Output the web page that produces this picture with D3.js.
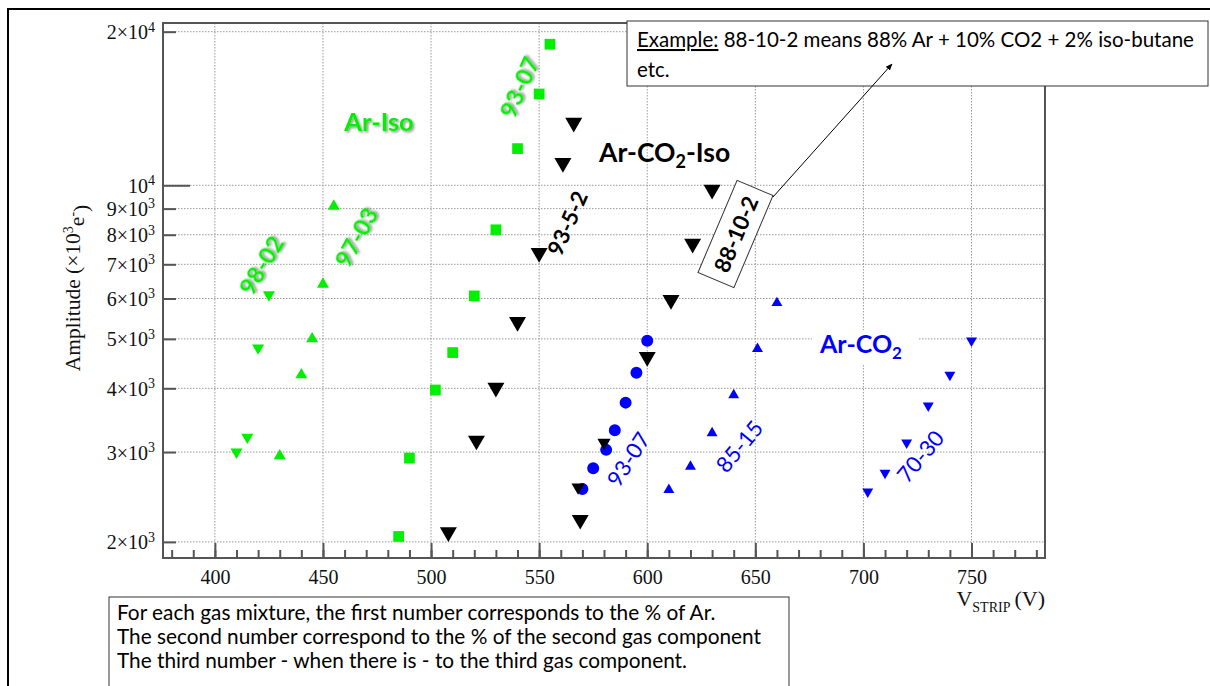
<!DOCTYPE html>
<html>
<head>
<meta charset="utf-8">
<script src="https://cdn.jsdelivr.net/npm/d3@7"></script>
<style>
body { margin: 0; background: #fff; }
svg { display: block; }
</style>
</head>
<body>
<div id="chart"></div>
<script>
// Ar-Iso mixtures (green) : [V_strip, amplitude]
const arIso9802 = [[410, 3000], [415, 3210], [420, 4800], [425, 6100]];
const arIso9703 = [[430, 2950], [440, 4250], [445, 5000], [450, 6400], [455, 9100]];
const arIso9307 = [[485, 2050], [490, 2920], [502, 3970], [510, 4700], [520, 6070], [530, 8180], [540, 11800], [550, 15100], [555, 18900]];
// Ar-CO2-Iso mixtures (black)
const arCo2Iso9352 = [[508, 2090], [521, 3160], [530, 4010], [540, 5400], [550, 7370], [561, 11060], [566, 13260]];
const arCo2Iso88102 = [[569, 2210], [600, 4610], [611, 5960], [621, 7680], [630, 9800]];
const arCo2IsoSmall = [[568, 2560], [580, 3130]];
// Ar-CO2 mixtures (blue)
const arCo29307 = [[570, 2540], [575, 2790], [581, 3030], [585, 3310], [590, 3750], [595, 4290], [600, 4960]];
const arCo28515 = [[610, 2530], [620, 2810], [630, 3270], [640, 3880], [651, 4780], [660, 5880]];
const arCo27030 = [[702, 2510], [710, 2730], [720, 3130], [730, 3700], [740, 4250], [750, 4960]];

const xMajor = [400, 450, 500, 550, 600, 650, 700, 750];
const xMinor = d3.range(380, 781, 10);
const yTicks = [2000, 3000, 4000, 5000, 6000, 7000, 8000, 9000, 10000, 20000];
const yMant = ["2", "3", "4", "5", "6", "7", "8", "9", "", "2"];
const yExp = ["3", "3", "3", "3", "3", "3", "3", "3", "4", "4"];

const width = 1210, height = 686;
const plotL = 163, plotT = 23, plotR = 1045, plotB = 558;
const green = "#00f000", blue = "#0000ff";
const sans = "Lato, 'Open Sans', sans-serif";
const serif = "'Liberation Serif', 'DejaVu Serif', serif";

const svg = d3.select("#chart").append("svg")
    .attr("width", width)
    .attr("height", height);

svg.append("rect").attr("width", width).attr("height", height).attr("fill", "#fff");

const defs = svg.append("defs");
defs.append("filter").attr("id", "shadow")
    .attr("x", "-20%").attr("y", "-20%").attr("width", "140%").attr("height", "140%")
    .append("feDropShadow")
    .attr("dx", 1.5).attr("dy", 1.5).attr("stdDeviation", 0.8)
    .attr("flood-color", "#666").attr("flood-opacity", 0.7);
defs.append("marker").attr("id", "arrow")
    .attr("viewBox", "0 0 10 10").attr("refX", 9).attr("refY", 5)
    .attr("markerWidth", 7).attr("markerHeight", 7).attr("orient", "auto")
    .append("path").attr("d", "M0,1 L10,5 L0,9 Z").attr("fill", "#000");

// outer frame of the slide
svg.append("path")
    .attr("d", `M8,${height} L8,9 L${width},9`)
    .attr("fill", "none").attr("stroke", "#000").attr("stroke-width", 2);

const x = d3.scaleLinear().domain([376, 784]).range([plotL, plotR]);
const y = d3.scaleLog().domain([1860, 20800]).range([plotB, plotT]);

// grid
const grid = svg.append("g").attr("stroke", "#999").attr("stroke-width", 1).attr("stroke-dasharray", "1.5,1.5");
grid.selectAll(".gx").data(xMajor).enter().append("line")
    .attr("x1", d => x(d)).attr("x2", d => x(d)).attr("y1", plotT).attr("y2", plotB);
grid.selectAll(".gy").data(yTicks).enter().append("line")
    .attr("x1", plotL).attr("x2", plotR).attr("y1", d => y(d)).attr("y2", d => y(d));

// axes
const axisColor = "#555";
const xMinorAxis = svg.append("g").attr("transform", `translate(0,${plotB})`)
    .call(d3.axisBottom(x).tickValues(xMinor).tickSize(-8).tickFormat(""));
const xMajorAxis = svg.append("g").attr("transform", `translate(0,${plotB})`)
    .call(d3.axisBottom(x).tickValues(xMajor).tickSize(-15).tickPadding(9).tickFormat(d3.format("d")));
const yAxis = svg.append("g").attr("transform", `translate(${plotL},0)`)
    .call(d3.axisLeft(y).tickValues(yTicks).tickSize(-13).tickPadding(10).tickFormat(""));

[xMinorAxis, xMajorAxis, yAxis].forEach(g => {
    g.select(".domain").remove();
    g.selectAll(".tick line").attr("stroke", axisColor).attr("stroke-width", 2);
});
yAxis.selectAll(".tick line").filter(d => d === 10000).attr("x2", 27);

xMajorAxis.selectAll(".tick text")
    .attr("font-family", serif).attr("font-size", 20).attr("fill", "#111").attr("dy", "0.85em");

yAxis.selectAll(".tick text").each(function(d, i) {
    const t = d3.select(this)
        .attr("font-family", serif).attr("font-size", 20).attr("fill", "#111")
        .attr("x", -8).attr("dy", "0.35em");
    t.text(null);
    t.append("tspan").text(yMant[i] ? yMant[i] + "×10" : "10");
    t.append("tspan").attr("dy", "-0.55em").attr("font-size", 14).text(yExp[i]);
});

svg.append("rect")
    .attr("x", plotL).attr("y", plotT).attr("width", plotR - plotL).attr("height", plotB - plotT)
    .attr("fill", "none").attr("stroke", axisColor).attr("stroke-width", 2);

// axis titles
const yTitle = svg.append("text")
    .attr("transform", "translate(80,288) rotate(-90)")
    .attr("text-anchor", "middle")
    .attr("font-family", serif).attr("font-size", 21.5).attr("fill", "#111");
yTitle.append("tspan").text("Amplitude (×10");
yTitle.append("tspan").attr("dy", "-0.5em").attr("font-size", 14).text("3");
yTitle.append("tspan").attr("dy", "0.5em").text("e");
yTitle.append("tspan").attr("dy", "-0.5em").attr("font-size", 14).text("-");
yTitle.append("tspan").attr("dy", "0.5em").text(")");

const xTitle = svg.append("text")
    .attr("x", plotR).attr("y", 606)
    .attr("text-anchor", "end")
    .attr("font-family", serif).attr("font-size", 22).attr("fill", "#111");
xTitle.append("tspan").text("V");
xTitle.append("tspan").attr("dy", 6).attr("font-size", 14).text("STRIP");
xTitle.append("tspan").attr("dy", -6).attr("dx", 4).text("(V)");

// markers
function drawSeries(data, type, size, color, rotate) {
    svg.append("g").selectAll("path").data(data).enter().append("path")
        .attr("d", d3.symbol().type(type).size(size))
        .attr("transform", d => `translate(${x(d[0])},${y(d[1])})` + (rotate ? " rotate(180)" : ""))
        .attr("fill", color);
}

function label(txt, cx, cy, angle, opts) {
    const t = svg.append("text")
        .attr("transform", `translate(${cx},${cy}) rotate(${angle})`)
        .attr("text-anchor", "middle")
        .attr("dominant-baseline", "central")
        .attr("font-family", sans)
        .attr("font-size", opts.size)
        .attr("font-weight", opts.bold ? 700 : 400)
        .attr("fill", opts.color)
        .text(txt);
    if (opts.shadow) t.attr("filter", "url(#shadow)");
    return t;
}

drawSeries(arIso9802, d3.symbolTriangle, 62, green, true);
drawSeries(arIso9703, d3.symbolTriangle, 62, green, false);
drawSeries(arIso9307, d3.symbolSquare, 115, green, false);

drawSeries(arCo29307, d3.symbolCircle, 113, blue, false);
drawSeries(arCo28515, d3.symbolTriangle, 52, blue, false);
drawSeries(arCo27030, d3.symbolTriangle, 52, blue, true);

// white patch behind the blue 93-07 label
svg.append("rect")
    .attr("transform", "translate(628,459) rotate(-57)")
    .attr("x", -36).attr("y", -10).attr("width", 72).attr("height", 20)
    .attr("fill", "#fff");
label("93-07", 628, 459, -57, { size: 22, color: blue });

drawSeries(arCo2Iso9352, d3.symbolTriangle, 125, "#000", true);
drawSeries(arCo2Iso88102, d3.symbolTriangle, 125, "#000", true);
drawSeries(arCo2IsoSmall, d3.symbolTriangle, 75, "#000", true);

// annotations
label("Ar-Iso", 379, 121, 0, { size: 25.5, bold: true, color: green, shadow: true });
label("98-02", 261, 265, -59, { size: 23.5, bold: true, color: green, shadow: true });
label("97-03", 356, 237, -61, { size: 23.5, bold: true, color: green, shadow: true });
label("93-07", 519, 87, -66, { size: 23.5, bold: true, color: green, shadow: true });
label("93-5-2", 567, 223, -66, { size: 22, bold: true, color: "#000" });

const co2Iso = svg.append("text")
    .attr("x", 599).attr("y", 162)
    .attr("font-family", sans).attr("font-size", 26.5).attr("font-weight", 700).attr("fill", "#000");
co2Iso.append("tspan").text("Ar-CO");
co2Iso.append("tspan").attr("dy", 6).attr("font-size", 18).text("2");
co2Iso.append("tspan").attr("dy", -6).text("-Iso");

svg.append("rect").attr("x", 812).attr("y", 330).attr("width", 106).attr("height", 34).attr("fill", "#fff");
const co2 = svg.append("text")
    .attr("x", 820).attr("y", 353)
    .attr("font-family", sans).attr("font-size", 25).attr("font-weight", 700).attr("fill", blue);
co2.append("tspan").text("Ar-CO");
co2.append("tspan").attr("dy", 6).attr("font-size", 17).text("2");

label("85-15", 739, 446, -50, { size: 22, color: blue });
label("70-30", 920, 456, -50, { size: 22, color: blue });

// 88-10-2 boxed label
svg.append("rect")
    .attr("transform", "translate(735.5,234) rotate(-67)")
    .attr("x", -50).attr("y", -19.5).attr("width", 100).attr("height", 39)
    .attr("fill", "#fff").attr("stroke", "#333").attr("stroke-width", 1);
label("88-10-2", 735.5, 234, -67, { size: 22, bold: true, color: "#000" });

// example note
svg.append("rect").attr("x", 627).attr("y", 21).attr("width", 581).attr("height", 65)
    .attr("fill", "#fff").attr("stroke", "#333").attr("stroke-width", 1);
const ex = svg.append("text").attr("x", 637).attr("y", 47)
    .attr("font-family", sans).attr("font-size", 20.5).attr("fill", "#000");
ex.append("tspan").attr("text-decoration", "underline").text("Example:");
ex.append("tspan").text(" 88-10-2 means 88% Ar + 10% CO2 + 2% iso-butane");
svg.append("text").attr("x", 637).attr("y", 77)
    .attr("font-family", sans).attr("font-size", 20.5).attr("fill", "#000").text("etc.");

// arrow from the boxed label to the note
svg.append("line")
    .attr("x1", 773).attr("y1", 197).attr("x2", 892).attr("y2", 64)
    .attr("stroke", "#000").attr("stroke-width", 1).attr("marker-end", "url(#arrow)");

// explanation note
svg.append("rect").attr("x", 109).attr("y", 597).attr("width", 680).attr("height", 110)
    .attr("fill", "#fff").attr("stroke", "#333").attr("stroke-width", 1);
const notes = [
    "For each gas mixture, the first number corresponds to the % of Ar.",
    "The second number correspond to the % of the second gas component",
    "The third number - when there is - to the third gas component."
];
svg.append("g").selectAll("text").data(notes).enter().append("text")
    .attr("x", 117).attr("y", (d, i) => 620 + i * 24)
    .attr("font-family", sans).attr("font-size", 20.8).attr("fill", "#000")
    .text(d => d);
</script>
</body>
</html>
